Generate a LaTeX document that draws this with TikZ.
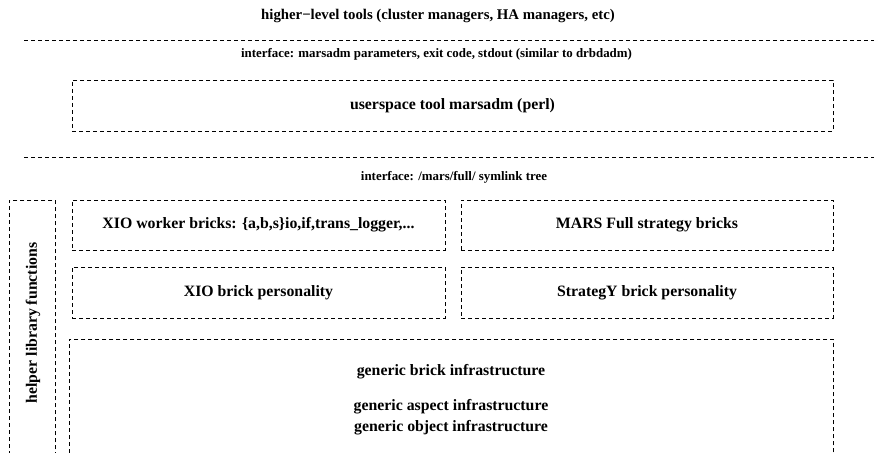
\documentclass[tikz,border=0pt]{standalone}
\usepackage{fontspec}
\setmainfont{Liberation Serif}
\usetikzlibrary{positioning}

\begin{document}
\begin{tikzpicture}[
  x=1pt, y=-1pt,
  layerbox/.style={
    rectangle, draw=black, line width=0.7pt,
    dash pattern=on 4pt off 3pt,
    inner sep=0pt,
    font=\fontsize{15.8}{18}\selectfont\bfseries
  },
  openbox/.style={layerbox, anchor=north west},
  layertext/.style={font=\fontsize{15.8}{18}\selectfont\bfseries, inner sep=0pt},
  toptext/.style={font=\fontsize{14.8}{17}\selectfont\bfseries, inner sep=0pt},
  iftext/.style={font=\fontsize{12.9}{15}\selectfont\bfseries, inner sep=0pt},
  sepline/.style={draw=black, line width=0.7pt, dash pattern=on 4pt off 3pt},
]
\useasboundingbox (0,0) rectangle (877,452);
\clip (0,0) rectangle (877,452);

%% ================================================================
%% TOP: tools and marsadm
%% ================================================================
\node[toptext] (tools) at (438,16)
  {higher−level tools (cluster managers, HA managers, etc)};

\coordinate (sepA-l) at (24,40);
\coordinate (sepA-r) at (874,40);
\draw[sepline] (sepA-l) -- (sepA-r);

\node[iftext] (ifadm) at (436.5,54)
  {interface: marsadm parameters, exit code, stdout (similar to drbdadm)};

\node[layerbox, minimum width=761pt, minimum height=51pt] (marsadm)
  at (452.5,105.5) {userspace tool marsadm (perl)};

\coordinate (sepB-l) at (24,157);
\coordinate (sepB-r) at (874,157);
\draw[sepline] (sepB-l) -- (sepB-r);

\node[iftext] (iftree) at (454,177) {interface: /mars/full/ symlink tree};

%% ================================================================
%% KERNEL: bricks
%% ================================================================
% helper column (open at the bottom)
\node[openbox, minimum width=46pt, minimum height=280pt] (helper) at (9,200) {};
\node[layertext, rotate=90] (helperlbl) at (33,323) {helper library functions};

% worker / strategy bricks
\node[layerbox, minimum width=373pt, minimum height=50pt] (xiowork)
  at (258.5,225) {XIO worker bricks: \{a,b,s\}io,if,trans\_logger,...};
\node[layerbox, minimum width=372pt, minimum height=50pt] (marsfull)
  at (647,225) {MARS Full strategy bricks};

% personalities
\node[layerbox, minimum width=373pt, minimum height=51pt] (xiopers)
  at (258.5,292.5) {XIO brick personality};
\node[layerbox, minimum width=372pt, minimum height=51pt] (strpers)
  at (647,292.5) {StrategY brick personality};

% generic infrastructure (open at the bottom)
\node[openbox, minimum width=764pt, minimum height=140pt] (generic) at (69,339) {};
\node[layertext] (genbrick)  at (451,372) {generic brick infrastructure};
\node[layertext] (genaspect) at (451,407) {generic aspect infrastructure};
\node[layertext] (genobject) at (451,428) {generic object infrastructure};

\end{tikzpicture}
\end{document}
